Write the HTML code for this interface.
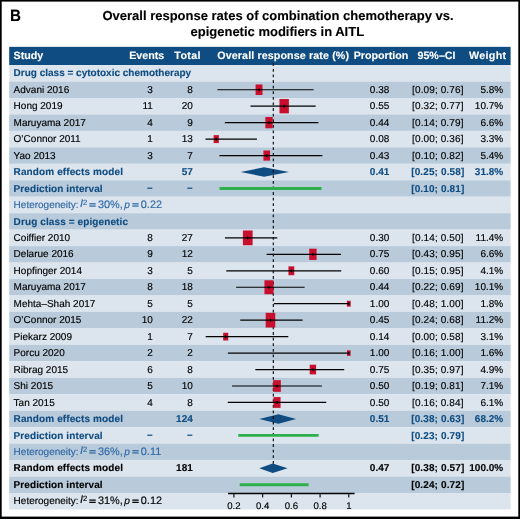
<!DOCTYPE html>
<html><head><meta charset="utf-8"><style>
html,body{margin:0;padding:0;background:#fff;overflow:hidden;width:520px;height:519px;}
svg{display:block;font-family:"Liberation Sans",sans-serif;text-rendering:geometricPrecision;-webkit-font-smoothing:antialiased;will-change:transform;}

</style></head><body>
<svg width="520" height="519" viewBox="0 0 520 519">
<rect x="0" y="0" width="520" height="519" fill="#fff"/>
<rect x="0" y="0" width="1.7" height="519" fill="#000"/><rect x="0" y="0" width="520" height="1.6" fill="#000"/><rect x="518.3" y="0" width="1.7" height="519" fill="#000"/><rect x="0" y="516.6" width="520" height="2.4" fill="#000"/>
<text x="10.87" y="20.60" text-anchor="start" font-weight="bold" fill="#000" stroke="#000" stroke-width="0.12" font-size="16.5" font-style="normal" transform="scale(0.92,1)">B</text>
<text x="278.00" y="20.30" text-anchor="middle" font-weight="bold" fill="#000" stroke="#000" stroke-width="0.12" font-size="13" font-style="normal" >Overall response rates of combination chemotherapy vs.</text>
<text x="277.30" y="35.50" text-anchor="middle" font-weight="bold" fill="#000" stroke="#000" stroke-width="0.12" font-size="13" font-style="normal" >epigenetic modifiers in AITL</text>
<rect x="9.2" y="46.85" width="501.40" height="18.19" fill="#0f4c81"/>
<rect x="9.2" y="65.04" width="501.40" height="16.51" fill="#dce5ee"/>
<rect x="9.2" y="81.50" width="501.40" height="16.51" fill="#b9cbdb"/>
<rect x="9.2" y="97.96" width="501.40" height="16.51" fill="#dce5ee"/>
<rect x="9.2" y="114.42" width="501.40" height="16.51" fill="#b9cbdb"/>
<rect x="9.2" y="130.88" width="501.40" height="16.51" fill="#dce5ee"/>
<rect x="9.2" y="147.34" width="501.40" height="16.51" fill="#b9cbdb"/>
<rect x="9.2" y="163.80" width="501.40" height="16.51" fill="#dce5ee"/>
<rect x="9.2" y="180.26" width="501.40" height="16.51" fill="#b9cbdb"/>
<rect x="9.2" y="196.72" width="501.40" height="16.51" fill="#dce5ee"/>
<rect x="9.2" y="213.18" width="501.40" height="16.51" fill="#b9cbdb"/>
<rect x="9.2" y="229.64" width="501.40" height="16.51" fill="#dce5ee"/>
<rect x="9.2" y="246.10" width="501.40" height="16.51" fill="#b9cbdb"/>
<rect x="9.2" y="262.56" width="501.40" height="16.51" fill="#dce5ee"/>
<rect x="9.2" y="279.02" width="501.40" height="16.51" fill="#b9cbdb"/>
<rect x="9.2" y="295.48" width="501.40" height="16.51" fill="#dce5ee"/>
<rect x="9.2" y="311.94" width="501.40" height="16.51" fill="#b9cbdb"/>
<rect x="9.2" y="328.40" width="501.40" height="16.51" fill="#dce5ee"/>
<rect x="9.2" y="344.86" width="501.40" height="16.51" fill="#b9cbdb"/>
<rect x="9.2" y="361.32" width="501.40" height="16.51" fill="#dce5ee"/>
<rect x="9.2" y="377.78" width="501.40" height="16.51" fill="#b9cbdb"/>
<rect x="9.2" y="394.24" width="501.40" height="16.51" fill="#dce5ee"/>
<rect x="9.2" y="410.70" width="501.40" height="16.51" fill="#b9cbdb"/>
<rect x="9.2" y="427.16" width="501.40" height="16.51" fill="#dce5ee"/>
<rect x="9.2" y="443.62" width="501.40" height="16.51" fill="#b9cbdb"/>
<rect x="9.2" y="460.08" width="501.40" height="16.51" fill="#dce5ee"/>
<rect x="9.2" y="476.54" width="501.40" height="16.51" fill="#b9cbdb"/>
<rect x="9.2" y="493.00" width="501.40" height="16.51" fill="#dce5ee"/>
<text x="13.60" y="59.20" text-anchor="start" font-weight="bold" fill="#fff" stroke="#fff" stroke-width="0.12" font-size="10.7" font-style="normal" >Study</text>
<text x="164.30" y="59.20" text-anchor="end" font-weight="bold" fill="#fff" stroke="#fff" stroke-width="0.12" font-size="10.7" font-style="normal" >Events</text>
<text x="200.80" y="59.20" text-anchor="end" font-weight="bold" fill="#fff" stroke="#fff" stroke-width="0.12" font-size="10.7" font-style="normal" letter-spacing="0.35">Total</text>
<text x="283.20" y="59.20" text-anchor="middle" font-weight="bold" fill="#fff" stroke="#fff" stroke-width="0.12" font-size="10.7" font-style="normal" letter-spacing="0.12">Overall response rate (%)</text>
<text x="381.00" y="59.20" text-anchor="middle" font-weight="bold" fill="#fff" stroke="#fff" stroke-width="0.12" font-size="10.7" font-style="normal" >Proportion</text>
<text x="436.50" y="59.20" text-anchor="middle" font-weight="bold" fill="#fff" stroke="#fff" stroke-width="0.12" font-size="10.7" font-style="normal" >95%–CI</text>
<text x="506.40" y="59.20" text-anchor="end" font-weight="bold" fill="#fff" stroke="#fff" stroke-width="0.12" font-size="10.7" font-style="normal" letter-spacing="0.32">Weight</text>
<text x="13.60" y="76.42" text-anchor="start" font-weight="bold" fill="#0f4c81" stroke="#0f4c81" stroke-width="0.12" font-size="10" font-style="normal" >Drug class = cytotoxic chemotherapy</text>
<text x="13.60" y="92.88" text-anchor="start" font-weight="normal" fill="#000" stroke="#000" stroke-width="0.15" font-size="10" font-style="normal" >Advani 2016</text>
<text x="152.80" y="92.88" text-anchor="end" font-weight="normal" fill="#000" stroke="#000" stroke-width="0.15" font-size="10" font-style="normal" >3</text>
<text x="192.80" y="92.88" text-anchor="end" font-weight="normal" fill="#000" stroke="#000" stroke-width="0.15" font-size="10" font-style="normal" >8</text>
<text x="379.60" y="92.88" text-anchor="middle" font-weight="normal" fill="#000" stroke="#000" stroke-width="0.15" font-size="10" font-style="normal" >0.38</text>
<text x="437.80" y="92.88" text-anchor="middle" font-weight="normal" fill="#000" stroke="#000" stroke-width="0.15" font-size="10" font-style="normal" letter-spacing="0.12">[0.09; 0.76]</text>
<text x="503.20" y="92.88" text-anchor="end" font-weight="normal" fill="#000" stroke="#000" stroke-width="0.15" font-size="10" font-style="normal" >5.8%</text>
<text x="13.60" y="109.34" text-anchor="start" font-weight="normal" fill="#000" stroke="#000" stroke-width="0.15" font-size="10" font-style="normal" >Hong 2019</text>
<text x="152.80" y="109.34" text-anchor="end" font-weight="normal" fill="#000" stroke="#000" stroke-width="0.15" font-size="10" font-style="normal" >11</text>
<text x="192.80" y="109.34" text-anchor="end" font-weight="normal" fill="#000" stroke="#000" stroke-width="0.15" font-size="10" font-style="normal" >20</text>
<text x="379.60" y="109.34" text-anchor="middle" font-weight="normal" fill="#000" stroke="#000" stroke-width="0.15" font-size="10" font-style="normal" >0.55</text>
<text x="437.80" y="109.34" text-anchor="middle" font-weight="normal" fill="#000" stroke="#000" stroke-width="0.15" font-size="10" font-style="normal" letter-spacing="0.12">[0.32; 0.77]</text>
<text x="503.20" y="109.34" text-anchor="end" font-weight="normal" fill="#000" stroke="#000" stroke-width="0.15" font-size="10" font-style="normal" >10.7%</text>
<text x="13.60" y="125.80" text-anchor="start" font-weight="normal" fill="#000" stroke="#000" stroke-width="0.15" font-size="10" font-style="normal" >Maruyama 2017</text>
<text x="152.80" y="125.80" text-anchor="end" font-weight="normal" fill="#000" stroke="#000" stroke-width="0.15" font-size="10" font-style="normal" >4</text>
<text x="192.80" y="125.80" text-anchor="end" font-weight="normal" fill="#000" stroke="#000" stroke-width="0.15" font-size="10" font-style="normal" >9</text>
<text x="379.60" y="125.80" text-anchor="middle" font-weight="normal" fill="#000" stroke="#000" stroke-width="0.15" font-size="10" font-style="normal" >0.44</text>
<text x="437.80" y="125.80" text-anchor="middle" font-weight="normal" fill="#000" stroke="#000" stroke-width="0.15" font-size="10" font-style="normal" letter-spacing="0.12">[0.14; 0.79]</text>
<text x="503.20" y="125.80" text-anchor="end" font-weight="normal" fill="#000" stroke="#000" stroke-width="0.15" font-size="10" font-style="normal" >6.6%</text>
<text x="13.60" y="142.26" text-anchor="start" font-weight="normal" fill="#000" stroke="#000" stroke-width="0.15" font-size="10" font-style="normal" >O’Connor 2011</text>
<text x="152.80" y="142.26" text-anchor="end" font-weight="normal" fill="#000" stroke="#000" stroke-width="0.15" font-size="10" font-style="normal" >1</text>
<text x="192.80" y="142.26" text-anchor="end" font-weight="normal" fill="#000" stroke="#000" stroke-width="0.15" font-size="10" font-style="normal" >13</text>
<text x="379.60" y="142.26" text-anchor="middle" font-weight="normal" fill="#000" stroke="#000" stroke-width="0.15" font-size="10" font-style="normal" >0.08</text>
<text x="437.80" y="142.26" text-anchor="middle" font-weight="normal" fill="#000" stroke="#000" stroke-width="0.15" font-size="10" font-style="normal" letter-spacing="0.12">[0.00; 0.36]</text>
<text x="503.20" y="142.26" text-anchor="end" font-weight="normal" fill="#000" stroke="#000" stroke-width="0.15" font-size="10" font-style="normal" >3.3%</text>
<text x="13.60" y="158.72" text-anchor="start" font-weight="normal" fill="#000" stroke="#000" stroke-width="0.15" font-size="10" font-style="normal" >Yao 2013</text>
<text x="152.80" y="158.72" text-anchor="end" font-weight="normal" fill="#000" stroke="#000" stroke-width="0.15" font-size="10" font-style="normal" >3</text>
<text x="192.80" y="158.72" text-anchor="end" font-weight="normal" fill="#000" stroke="#000" stroke-width="0.15" font-size="10" font-style="normal" >7</text>
<text x="379.60" y="158.72" text-anchor="middle" font-weight="normal" fill="#000" stroke="#000" stroke-width="0.15" font-size="10" font-style="normal" >0.43</text>
<text x="437.80" y="158.72" text-anchor="middle" font-weight="normal" fill="#000" stroke="#000" stroke-width="0.15" font-size="10" font-style="normal" letter-spacing="0.12">[0.10; 0.82]</text>
<text x="503.20" y="158.72" text-anchor="end" font-weight="normal" fill="#000" stroke="#000" stroke-width="0.15" font-size="10" font-style="normal" >5.4%</text>
<text x="13.60" y="175.18" text-anchor="start" font-weight="bold" fill="#0f4c81" stroke="#0f4c81" stroke-width="0.12" font-size="10" font-style="normal" letter-spacing="0.11">Random effects model</text>
<text x="192.80" y="175.18" text-anchor="end" font-weight="bold" fill="#0f4c81" stroke="#0f4c81" stroke-width="0.12" font-size="10" font-style="normal" >57</text>
<text x="379.60" y="175.18" text-anchor="middle" font-weight="bold" fill="#0f4c81" stroke="#0f4c81" stroke-width="0.12" font-size="10" font-style="normal" >0.41</text>
<text x="437.80" y="175.18" text-anchor="middle" font-weight="bold" fill="#0f4c81" stroke="#0f4c81" stroke-width="0.12" font-size="10" font-style="normal" letter-spacing="0.12">[0.25; 0.58]</text>
<text x="503.20" y="175.18" text-anchor="end" font-weight="bold" fill="#0f4c81" stroke="#0f4c81" stroke-width="0.12" font-size="10" font-style="normal" >31.8%</text>
<text x="13.60" y="191.64" text-anchor="start" font-weight="bold" fill="#0f4c81" stroke="#0f4c81" stroke-width="0.12" font-size="10" font-style="normal" letter-spacing="0.1">Prediction interval</text>
<text x="152.60" y="191.04" text-anchor="end" font-weight="bold" fill="#0f4c81" stroke="#0f4c81" stroke-width="0.12" font-size="10" font-style="normal" >–</text>
<text x="192.60" y="191.04" text-anchor="end" font-weight="bold" fill="#0f4c81" stroke="#0f4c81" stroke-width="0.12" font-size="10" font-style="normal" >–</text>
<text x="437.80" y="191.64" text-anchor="middle" font-weight="bold" fill="#0f4c81" stroke="#0f4c81" stroke-width="0.12" font-size="10" font-style="normal" letter-spacing="0.12">[0.10; 0.81]</text>
<text x="13.60" y="208.10" text-anchor="start" font-weight="normal" fill="#3069a5" stroke="#3069a5" stroke-width="0.15" font-size="10" font-style="normal" >Heterogeneity:</text>
<text x="80.10" y="207.20" text-anchor="start" font-weight="normal" fill="#3069a5" stroke="#3069a5" stroke-width="0.15" font-size="11" font-style="italic" >I</text>
<text x="83.00" y="204.65" text-anchor="start" font-weight="normal" fill="#3069a5" stroke="#3069a5" stroke-width="0.15" font-size="7.6" font-style="normal" >2</text>
<rect x="89.30" y="203.20" width="6.4" height="1.25" fill="#3069a5"/><rect x="89.30" y="205.45" width="6.4" height="1.25" fill="#3069a5"/>
<rect x="132.30" y="203.20" width="6.4" height="1.25" fill="#3069a5"/><rect x="132.30" y="205.45" width="6.4" height="1.25" fill="#3069a5"/>
<text x="98.00" y="208.10" text-anchor="start" font-weight="normal" fill="#3069a5" stroke="#3069a5" stroke-width="0.15" font-size="10.9" font-style="normal" >30%,</text>
<text x="124.30" y="208.10" text-anchor="start" font-weight="normal" fill="#3069a5" stroke="#3069a5" stroke-width="0.15" font-size="10.2" font-style="italic" >p</text>
<text x="140.80" y="208.10" text-anchor="start" font-weight="normal" fill="#3069a5" stroke="#3069a5" stroke-width="0.15" font-size="10.9" font-style="normal" >0.22</text>
<text x="13.60" y="224.56" text-anchor="start" font-weight="bold" fill="#0f4c81" stroke="#0f4c81" stroke-width="0.12" font-size="10" font-style="normal" letter-spacing="0.11">Drug class = epigenetic</text>
<text x="13.60" y="241.02" text-anchor="start" font-weight="normal" fill="#000" stroke="#000" stroke-width="0.15" font-size="10" font-style="normal" >Coiffier 2010</text>
<text x="152.80" y="241.02" text-anchor="end" font-weight="normal" fill="#000" stroke="#000" stroke-width="0.15" font-size="10" font-style="normal" >8</text>
<text x="192.80" y="241.02" text-anchor="end" font-weight="normal" fill="#000" stroke="#000" stroke-width="0.15" font-size="10" font-style="normal" >27</text>
<text x="379.60" y="241.02" text-anchor="middle" font-weight="normal" fill="#000" stroke="#000" stroke-width="0.15" font-size="10" font-style="normal" >0.30</text>
<text x="437.80" y="241.02" text-anchor="middle" font-weight="normal" fill="#000" stroke="#000" stroke-width="0.15" font-size="10" font-style="normal" letter-spacing="0.12">[0.14; 0.50]</text>
<text x="503.20" y="241.02" text-anchor="end" font-weight="normal" fill="#000" stroke="#000" stroke-width="0.15" font-size="10" font-style="normal" >11.4%</text>
<text x="13.60" y="257.48" text-anchor="start" font-weight="normal" fill="#000" stroke="#000" stroke-width="0.15" font-size="10" font-style="normal" >Delarue 2016</text>
<text x="152.80" y="257.48" text-anchor="end" font-weight="normal" fill="#000" stroke="#000" stroke-width="0.15" font-size="10" font-style="normal" >9</text>
<text x="192.80" y="257.48" text-anchor="end" font-weight="normal" fill="#000" stroke="#000" stroke-width="0.15" font-size="10" font-style="normal" >12</text>
<text x="379.60" y="257.48" text-anchor="middle" font-weight="normal" fill="#000" stroke="#000" stroke-width="0.15" font-size="10" font-style="normal" >0.75</text>
<text x="437.80" y="257.48" text-anchor="middle" font-weight="normal" fill="#000" stroke="#000" stroke-width="0.15" font-size="10" font-style="normal" letter-spacing="0.12">[0.43; 0.95]</text>
<text x="503.20" y="257.48" text-anchor="end" font-weight="normal" fill="#000" stroke="#000" stroke-width="0.15" font-size="10" font-style="normal" >6.6%</text>
<text x="13.60" y="273.94" text-anchor="start" font-weight="normal" fill="#000" stroke="#000" stroke-width="0.15" font-size="10" font-style="normal" >Hopfinger 2014</text>
<text x="152.80" y="273.94" text-anchor="end" font-weight="normal" fill="#000" stroke="#000" stroke-width="0.15" font-size="10" font-style="normal" >3</text>
<text x="192.80" y="273.94" text-anchor="end" font-weight="normal" fill="#000" stroke="#000" stroke-width="0.15" font-size="10" font-style="normal" >5</text>
<text x="379.60" y="273.94" text-anchor="middle" font-weight="normal" fill="#000" stroke="#000" stroke-width="0.15" font-size="10" font-style="normal" >0.60</text>
<text x="437.80" y="273.94" text-anchor="middle" font-weight="normal" fill="#000" stroke="#000" stroke-width="0.15" font-size="10" font-style="normal" letter-spacing="0.12">[0.15; 0.95]</text>
<text x="503.20" y="273.94" text-anchor="end" font-weight="normal" fill="#000" stroke="#000" stroke-width="0.15" font-size="10" font-style="normal" >4.1%</text>
<text x="13.60" y="290.40" text-anchor="start" font-weight="normal" fill="#000" stroke="#000" stroke-width="0.15" font-size="10" font-style="normal" >Maruyama 2017</text>
<text x="152.80" y="290.40" text-anchor="end" font-weight="normal" fill="#000" stroke="#000" stroke-width="0.15" font-size="10" font-style="normal" >8</text>
<text x="192.80" y="290.40" text-anchor="end" font-weight="normal" fill="#000" stroke="#000" stroke-width="0.15" font-size="10" font-style="normal" >18</text>
<text x="379.60" y="290.40" text-anchor="middle" font-weight="normal" fill="#000" stroke="#000" stroke-width="0.15" font-size="10" font-style="normal" >0.44</text>
<text x="437.80" y="290.40" text-anchor="middle" font-weight="normal" fill="#000" stroke="#000" stroke-width="0.15" font-size="10" font-style="normal" letter-spacing="0.12">[0.22; 0.69]</text>
<text x="503.20" y="290.40" text-anchor="end" font-weight="normal" fill="#000" stroke="#000" stroke-width="0.15" font-size="10" font-style="normal" >10.1%</text>
<text x="13.60" y="306.86" text-anchor="start" font-weight="normal" fill="#000" stroke="#000" stroke-width="0.15" font-size="10" font-style="normal" >Mehta–Shah 2017</text>
<text x="152.80" y="306.86" text-anchor="end" font-weight="normal" fill="#000" stroke="#000" stroke-width="0.15" font-size="10" font-style="normal" >5</text>
<text x="192.80" y="306.86" text-anchor="end" font-weight="normal" fill="#000" stroke="#000" stroke-width="0.15" font-size="10" font-style="normal" >5</text>
<text x="379.60" y="306.86" text-anchor="middle" font-weight="normal" fill="#000" stroke="#000" stroke-width="0.15" font-size="10" font-style="normal" >1.00</text>
<text x="437.80" y="306.86" text-anchor="middle" font-weight="normal" fill="#000" stroke="#000" stroke-width="0.15" font-size="10" font-style="normal" letter-spacing="0.12">[0.48; 1.00]</text>
<text x="503.20" y="306.86" text-anchor="end" font-weight="normal" fill="#000" stroke="#000" stroke-width="0.15" font-size="10" font-style="normal" >1.8%</text>
<text x="13.60" y="323.32" text-anchor="start" font-weight="normal" fill="#000" stroke="#000" stroke-width="0.15" font-size="10" font-style="normal" >O’Connor 2015</text>
<text x="152.80" y="323.32" text-anchor="end" font-weight="normal" fill="#000" stroke="#000" stroke-width="0.15" font-size="10" font-style="normal" >10</text>
<text x="192.80" y="323.32" text-anchor="end" font-weight="normal" fill="#000" stroke="#000" stroke-width="0.15" font-size="10" font-style="normal" >22</text>
<text x="379.60" y="323.32" text-anchor="middle" font-weight="normal" fill="#000" stroke="#000" stroke-width="0.15" font-size="10" font-style="normal" >0.45</text>
<text x="437.80" y="323.32" text-anchor="middle" font-weight="normal" fill="#000" stroke="#000" stroke-width="0.15" font-size="10" font-style="normal" letter-spacing="0.12">[0.24; 0.68]</text>
<text x="503.20" y="323.32" text-anchor="end" font-weight="normal" fill="#000" stroke="#000" stroke-width="0.15" font-size="10" font-style="normal" >11.2%</text>
<text x="13.60" y="339.78" text-anchor="start" font-weight="normal" fill="#000" stroke="#000" stroke-width="0.15" font-size="10" font-style="normal" >Piekarz 2009</text>
<text x="152.80" y="339.78" text-anchor="end" font-weight="normal" fill="#000" stroke="#000" stroke-width="0.15" font-size="10" font-style="normal" >1</text>
<text x="192.80" y="339.78" text-anchor="end" font-weight="normal" fill="#000" stroke="#000" stroke-width="0.15" font-size="10" font-style="normal" >7</text>
<text x="379.60" y="339.78" text-anchor="middle" font-weight="normal" fill="#000" stroke="#000" stroke-width="0.15" font-size="10" font-style="normal" >0.14</text>
<text x="437.80" y="339.78" text-anchor="middle" font-weight="normal" fill="#000" stroke="#000" stroke-width="0.15" font-size="10" font-style="normal" letter-spacing="0.12">[0.00; 0.58]</text>
<text x="503.20" y="339.78" text-anchor="end" font-weight="normal" fill="#000" stroke="#000" stroke-width="0.15" font-size="10" font-style="normal" >3.1%</text>
<text x="13.60" y="356.24" text-anchor="start" font-weight="normal" fill="#000" stroke="#000" stroke-width="0.15" font-size="10" font-style="normal" >Porcu 2020</text>
<text x="152.80" y="356.24" text-anchor="end" font-weight="normal" fill="#000" stroke="#000" stroke-width="0.15" font-size="10" font-style="normal" >2</text>
<text x="192.80" y="356.24" text-anchor="end" font-weight="normal" fill="#000" stroke="#000" stroke-width="0.15" font-size="10" font-style="normal" >2</text>
<text x="379.60" y="356.24" text-anchor="middle" font-weight="normal" fill="#000" stroke="#000" stroke-width="0.15" font-size="10" font-style="normal" >1.00</text>
<text x="437.80" y="356.24" text-anchor="middle" font-weight="normal" fill="#000" stroke="#000" stroke-width="0.15" font-size="10" font-style="normal" letter-spacing="0.12">[0.16; 1.00]</text>
<text x="503.20" y="356.24" text-anchor="end" font-weight="normal" fill="#000" stroke="#000" stroke-width="0.15" font-size="10" font-style="normal" >1.6%</text>
<text x="13.60" y="372.70" text-anchor="start" font-weight="normal" fill="#000" stroke="#000" stroke-width="0.15" font-size="10" font-style="normal" >Ribrag 2015</text>
<text x="152.80" y="372.70" text-anchor="end" font-weight="normal" fill="#000" stroke="#000" stroke-width="0.15" font-size="10" font-style="normal" >6</text>
<text x="192.80" y="372.70" text-anchor="end" font-weight="normal" fill="#000" stroke="#000" stroke-width="0.15" font-size="10" font-style="normal" >8</text>
<text x="379.60" y="372.70" text-anchor="middle" font-weight="normal" fill="#000" stroke="#000" stroke-width="0.15" font-size="10" font-style="normal" >0.75</text>
<text x="437.80" y="372.70" text-anchor="middle" font-weight="normal" fill="#000" stroke="#000" stroke-width="0.15" font-size="10" font-style="normal" letter-spacing="0.12">[0.35; 0.97]</text>
<text x="503.20" y="372.70" text-anchor="end" font-weight="normal" fill="#000" stroke="#000" stroke-width="0.15" font-size="10" font-style="normal" >4.9%</text>
<text x="13.60" y="389.16" text-anchor="start" font-weight="normal" fill="#000" stroke="#000" stroke-width="0.15" font-size="10" font-style="normal" >Shi 2015</text>
<text x="152.80" y="389.16" text-anchor="end" font-weight="normal" fill="#000" stroke="#000" stroke-width="0.15" font-size="10" font-style="normal" >5</text>
<text x="192.80" y="389.16" text-anchor="end" font-weight="normal" fill="#000" stroke="#000" stroke-width="0.15" font-size="10" font-style="normal" >10</text>
<text x="379.60" y="389.16" text-anchor="middle" font-weight="normal" fill="#000" stroke="#000" stroke-width="0.15" font-size="10" font-style="normal" >0.50</text>
<text x="437.80" y="389.16" text-anchor="middle" font-weight="normal" fill="#000" stroke="#000" stroke-width="0.15" font-size="10" font-style="normal" letter-spacing="0.12">[0.19; 0.81]</text>
<text x="503.20" y="389.16" text-anchor="end" font-weight="normal" fill="#000" stroke="#000" stroke-width="0.15" font-size="10" font-style="normal" >7.1%</text>
<text x="13.60" y="405.62" text-anchor="start" font-weight="normal" fill="#000" stroke="#000" stroke-width="0.15" font-size="10" font-style="normal" >Tan 2015</text>
<text x="152.80" y="405.62" text-anchor="end" font-weight="normal" fill="#000" stroke="#000" stroke-width="0.15" font-size="10" font-style="normal" >4</text>
<text x="192.80" y="405.62" text-anchor="end" font-weight="normal" fill="#000" stroke="#000" stroke-width="0.15" font-size="10" font-style="normal" >8</text>
<text x="379.60" y="405.62" text-anchor="middle" font-weight="normal" fill="#000" stroke="#000" stroke-width="0.15" font-size="10" font-style="normal" >0.50</text>
<text x="437.80" y="405.62" text-anchor="middle" font-weight="normal" fill="#000" stroke="#000" stroke-width="0.15" font-size="10" font-style="normal" letter-spacing="0.12">[0.16; 0.84]</text>
<text x="503.20" y="405.62" text-anchor="end" font-weight="normal" fill="#000" stroke="#000" stroke-width="0.15" font-size="10" font-style="normal" >6.1%</text>
<text x="13.60" y="422.08" text-anchor="start" font-weight="bold" fill="#0f4c81" stroke="#0f4c81" stroke-width="0.12" font-size="10" font-style="normal" letter-spacing="0.11">Random effects model</text>
<text x="192.80" y="422.08" text-anchor="end" font-weight="bold" fill="#0f4c81" stroke="#0f4c81" stroke-width="0.12" font-size="10" font-style="normal" >124</text>
<text x="379.60" y="422.08" text-anchor="middle" font-weight="bold" fill="#0f4c81" stroke="#0f4c81" stroke-width="0.12" font-size="10" font-style="normal" >0.51</text>
<text x="437.80" y="422.08" text-anchor="middle" font-weight="bold" fill="#0f4c81" stroke="#0f4c81" stroke-width="0.12" font-size="10" font-style="normal" letter-spacing="0.12">[0.38; 0.63]</text>
<text x="503.20" y="422.08" text-anchor="end" font-weight="bold" fill="#0f4c81" stroke="#0f4c81" stroke-width="0.12" font-size="10" font-style="normal" >68.2%</text>
<text x="13.60" y="438.54" text-anchor="start" font-weight="bold" fill="#0f4c81" stroke="#0f4c81" stroke-width="0.12" font-size="10" font-style="normal" letter-spacing="0.1">Prediction interval</text>
<text x="152.60" y="437.94" text-anchor="end" font-weight="bold" fill="#0f4c81" stroke="#0f4c81" stroke-width="0.12" font-size="10" font-style="normal" >–</text>
<text x="192.60" y="437.94" text-anchor="end" font-weight="bold" fill="#0f4c81" stroke="#0f4c81" stroke-width="0.12" font-size="10" font-style="normal" >–</text>
<text x="437.80" y="438.54" text-anchor="middle" font-weight="bold" fill="#0f4c81" stroke="#0f4c81" stroke-width="0.12" font-size="10" font-style="normal" letter-spacing="0.12">[0.23; 0.79]</text>
<text x="13.60" y="455.00" text-anchor="start" font-weight="normal" fill="#3069a5" stroke="#3069a5" stroke-width="0.15" font-size="10" font-style="normal" >Heterogeneity:</text>
<text x="80.10" y="454.10" text-anchor="start" font-weight="normal" fill="#3069a5" stroke="#3069a5" stroke-width="0.15" font-size="11" font-style="italic" >I</text>
<text x="83.00" y="451.55" text-anchor="start" font-weight="normal" fill="#3069a5" stroke="#3069a5" stroke-width="0.15" font-size="7.6" font-style="normal" >2</text>
<rect x="89.30" y="450.10" width="6.4" height="1.25" fill="#3069a5"/><rect x="89.30" y="452.35" width="6.4" height="1.25" fill="#3069a5"/>
<rect x="132.30" y="450.10" width="6.4" height="1.25" fill="#3069a5"/><rect x="132.30" y="452.35" width="6.4" height="1.25" fill="#3069a5"/>
<text x="98.00" y="455.00" text-anchor="start" font-weight="normal" fill="#3069a5" stroke="#3069a5" stroke-width="0.15" font-size="10.9" font-style="normal" >36%,</text>
<text x="124.30" y="455.00" text-anchor="start" font-weight="normal" fill="#3069a5" stroke="#3069a5" stroke-width="0.15" font-size="10.2" font-style="italic" >p</text>
<text x="140.80" y="455.00" text-anchor="start" font-weight="normal" fill="#3069a5" stroke="#3069a5" stroke-width="0.15" font-size="10.9" font-style="normal" >0.11</text>
<text x="13.60" y="471.46" text-anchor="start" font-weight="bold" fill="#000" stroke="#000" stroke-width="0.12" font-size="10" font-style="normal" letter-spacing="0.11">Random effects model</text>
<text x="192.80" y="471.46" text-anchor="end" font-weight="bold" fill="#000" stroke="#000" stroke-width="0.12" font-size="10" font-style="normal" >181</text>
<text x="379.60" y="471.46" text-anchor="middle" font-weight="bold" fill="#000" stroke="#000" stroke-width="0.12" font-size="10" font-style="normal" >0.47</text>
<text x="437.80" y="471.46" text-anchor="middle" font-weight="bold" fill="#000" stroke="#000" stroke-width="0.12" font-size="10" font-style="normal" letter-spacing="0.12">[0.38; 0.57]</text>
<text x="503.20" y="471.46" text-anchor="end" font-weight="bold" fill="#000" stroke="#000" stroke-width="0.12" font-size="10" font-style="normal" >100.0%</text>
<text x="13.60" y="487.92" text-anchor="start" font-weight="bold" fill="#000" stroke="#000" stroke-width="0.12" font-size="10" font-style="normal" letter-spacing="0.1">Prediction interval</text>
<text x="437.80" y="487.92" text-anchor="middle" font-weight="bold" fill="#000" stroke="#000" stroke-width="0.12" font-size="10" font-style="normal" letter-spacing="0.12">[0.24; 0.72]</text>
<text x="13.60" y="504.38" text-anchor="start" font-weight="normal" fill="#000" stroke="#000" stroke-width="0.15" font-size="10" font-style="normal" >Heterogeneity:</text>
<text x="80.10" y="503.48" text-anchor="start" font-weight="normal" fill="#000" stroke="#000" stroke-width="0.15" font-size="11" font-style="italic" >I</text>
<text x="83.00" y="500.93" text-anchor="start" font-weight="normal" fill="#000" stroke="#000" stroke-width="0.15" font-size="7.6" font-style="normal" >2</text>
<rect x="89.30" y="499.48" width="6.4" height="1.25" fill="#000"/><rect x="89.30" y="501.73" width="6.4" height="1.25" fill="#000"/>
<rect x="132.30" y="499.48" width="6.4" height="1.25" fill="#000"/><rect x="132.30" y="501.73" width="6.4" height="1.25" fill="#000"/>
<text x="98.00" y="504.38" text-anchor="start" font-weight="normal" fill="#000" stroke="#000" stroke-width="0.15" font-size="10.9" font-style="normal" >31%,</text>
<text x="124.30" y="504.38" text-anchor="start" font-weight="normal" fill="#000" stroke="#000" stroke-width="0.15" font-size="10.2" font-style="italic" >p</text>
<text x="140.80" y="504.38" text-anchor="start" font-weight="normal" fill="#000" stroke="#000" stroke-width="0.15" font-size="10.9" font-style="normal" >0.12</text>
<polygon points="240.60,172.03 264.08,167.33 288.99,172.03 264.08,176.73" fill="#0f4c81"/>
<polygon points="259.27,418.93 278.44,414.23 296.17,418.93 278.44,423.63" fill="#0f4c81"/>
<polygon points="259.27,468.31 272.69,463.61 287.55,468.31 272.69,473.01" fill="#0f4c81"/>
<line x1="273.3" y1="63.3" x2="273.3" y2="463.9" stroke="#000" stroke-width="1.1" stroke-dasharray="2.8,2.8"/>
<rect x="255.59" y="84.45" width="6.92" height="10.56" fill="#c8102e"/>
<line x1="217.43" y1="89.73" x2="313.63" y2="89.73" stroke="#000" stroke-width="1.2"/>
<ellipse cx="259.05" cy="89.73" rx="0.8" ry="1.6" fill="#000"/>
<rect x="279.48" y="99.02" width="9.40" height="14.34" fill="#c8102e"/>
<line x1="250.48" y1="106.19" x2="315.69" y2="106.19" stroke="#000" stroke-width="1.2"/>
<ellipse cx="284.18" cy="106.19" rx="0.8" ry="1.6" fill="#000"/>
<rect x="265.33" y="117.02" width="7.38" height="11.26" fill="#c8102e"/>
<line x1="224.87" y1="122.65" x2="318.36" y2="122.65" stroke="#000" stroke-width="1.2"/>
<ellipse cx="269.02" cy="122.65" rx="0.8" ry="1.6" fill="#000"/>
<rect x="213.63" y="135.13" width="5.22" height="7.96" fill="#c8102e"/>
<line x1="205.47" y1="139.11" x2="256.94" y2="139.11" stroke="#000" stroke-width="1.2"/>
<ellipse cx="216.24" cy="139.11" rx="0.8" ry="1.6" fill="#000"/>
<rect x="263.41" y="150.48" width="6.68" height="10.19" fill="#c8102e"/>
<line x1="219.42" y1="155.57" x2="322.36" y2="155.57" stroke="#000" stroke-width="1.2"/>
<ellipse cx="266.75" cy="155.57" rx="0.8" ry="1.6" fill="#000"/>
<line x1="219.56" y1="188.49" x2="321.52" y2="188.49" stroke="#2db04b" stroke-width="2.8"/>
<rect x="242.90" y="230.47" width="9.70" height="14.80" fill="#c8102e"/>
<line x1="224.94" y1="237.87" x2="277.26" y2="237.87" stroke="#000" stroke-width="1.2"/>
<ellipse cx="247.75" cy="237.87" rx="0.8" ry="1.6" fill="#000"/>
<rect x="309.21" y="248.70" width="7.38" height="11.26" fill="#c8102e"/>
<line x1="266.68" y1="254.33" x2="340.92" y2="254.33" stroke="#000" stroke-width="1.2"/>
<ellipse cx="312.90" cy="254.33" rx="0.8" ry="1.6" fill="#000"/>
<rect x="288.45" y="266.35" width="5.82" height="8.88" fill="#c8102e"/>
<line x1="226.25" y1="270.79" x2="341.23" y2="270.79" stroke="#000" stroke-width="1.2"/>
<ellipse cx="291.36" cy="270.79" rx="0.8" ry="1.6" fill="#000"/>
<rect x="264.45" y="280.28" width="9.13" height="13.93" fill="#c8102e"/>
<line x1="236.12" y1="287.25" x2="304.63" y2="287.25" stroke="#000" stroke-width="1.2"/>
<ellipse cx="269.02" cy="287.25" rx="0.8" ry="1.6" fill="#000"/>
<rect x="346.87" y="300.77" width="3.85" height="5.88" fill="#c8102e"/>
<line x1="273.87" y1="303.71" x2="348.80" y2="303.71" stroke="#000" stroke-width="1.2"/>
<ellipse cx="348.80" cy="303.71" rx="0.8" ry="1.6" fill="#000"/>
<rect x="265.66" y="312.84" width="9.61" height="14.67" fill="#c8102e"/>
<line x1="240.22" y1="320.17" x2="302.55" y2="320.17" stroke="#000" stroke-width="1.2"/>
<ellipse cx="270.47" cy="320.17" rx="0.8" ry="1.6" fill="#000"/>
<rect x="223.19" y="332.77" width="5.06" height="7.72" fill="#c8102e"/>
<line x1="205.72" y1="336.63" x2="288.30" y2="336.63" stroke="#000" stroke-width="1.2"/>
<ellipse cx="225.72" cy="336.63" rx="0.8" ry="1.6" fill="#000"/>
<rect x="346.98" y="350.32" width="3.63" height="5.54" fill="#c8102e"/>
<line x1="227.90" y1="353.09" x2="348.80" y2="353.09" stroke="#000" stroke-width="1.2"/>
<ellipse cx="348.80" cy="353.09" rx="0.8" ry="1.6" fill="#000"/>
<rect x="309.72" y="364.70" width="6.36" height="9.70" fill="#c8102e"/>
<line x1="255.33" y1="369.55" x2="344.22" y2="369.55" stroke="#000" stroke-width="1.2"/>
<ellipse cx="312.90" cy="369.55" rx="0.8" ry="1.6" fill="#000"/>
<rect x="273.17" y="380.17" width="7.66" height="11.68" fill="#c8102e"/>
<line x1="232.07" y1="386.01" x2="321.93" y2="386.01" stroke="#000" stroke-width="1.2"/>
<ellipse cx="277.00" cy="386.01" rx="0.8" ry="1.6" fill="#000"/>
<rect x="273.45" y="397.06" width="7.10" height="10.83" fill="#c8102e"/>
<line x1="227.75" y1="402.47" x2="326.25" y2="402.47" stroke="#000" stroke-width="1.2"/>
<ellipse cx="277.00" cy="402.47" rx="0.8" ry="1.6" fill="#000"/>
<line x1="238.23" y1="435.39" x2="318.64" y2="435.39" stroke="#2db04b" stroke-width="2.8"/>
<line x1="239.66" y1="484.77" x2="308.59" y2="484.77" stroke="#2db04b" stroke-width="2.8"/>
<line x1="228.1" y1="493.5" x2="354.6" y2="493.5" stroke="#000" stroke-width="1.3"/>
<line x1="233.92" y1="493.5" x2="233.92" y2="497.6" stroke="#000" stroke-width="1.1"/>
<text x="233.92" y="509.00" text-anchor="middle" font-weight="normal" fill="#000" stroke="#000" stroke-width="0.15" font-size="9.6" font-style="normal" >0.2</text>
<line x1="262.64" y1="493.5" x2="262.64" y2="497.6" stroke="#000" stroke-width="1.1"/>
<text x="262.64" y="509.00" text-anchor="middle" font-weight="normal" fill="#000" stroke="#000" stroke-width="0.15" font-size="9.6" font-style="normal" >0.4</text>
<line x1="291.36" y1="493.5" x2="291.36" y2="497.6" stroke="#000" stroke-width="1.1"/>
<text x="291.36" y="509.00" text-anchor="middle" font-weight="normal" fill="#000" stroke="#000" stroke-width="0.15" font-size="9.6" font-style="normal" >0.6</text>
<line x1="320.08" y1="493.5" x2="320.08" y2="497.6" stroke="#000" stroke-width="1.1"/>
<text x="320.08" y="509.00" text-anchor="middle" font-weight="normal" fill="#000" stroke="#000" stroke-width="0.15" font-size="9.6" font-style="normal" >0.8</text>
<line x1="348.80" y1="493.5" x2="348.80" y2="497.6" stroke="#000" stroke-width="1.1"/>
<text x="348.80" y="509.00" text-anchor="middle" font-weight="normal" fill="#000" stroke="#000" stroke-width="0.15" font-size="9.6" font-style="normal" >1</text>
</svg></body></html>
